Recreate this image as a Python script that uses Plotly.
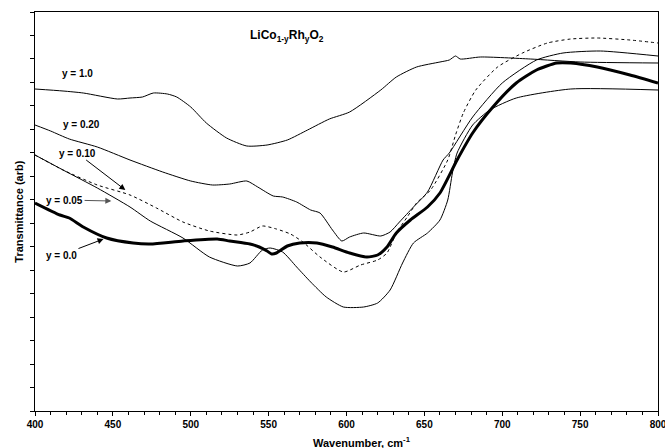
import plotly.graph_objects as go

# IR transmittance spectra of LiCo(1-y)Rh(y)O2, arbitrary units
wn_y100 = [400, 418, 431, 453, 461, 469, 476, 485, 491, 500, 510, 523, 536, 549, 562,
           575, 589, 602, 622, 632, 645, 660, 666, 670, 673, 686, 718, 750, 800]
tr_y100 = [322, 320, 318, 312, 313, 314, 318, 317, 314, 304, 288, 273, 265, 266, 271,
           281, 292, 299, 321, 334, 344, 349, 351, 355, 352, 354, 352, 349, 348]

wn_y020 = [400, 410, 422, 440, 461, 482, 500, 514, 525, 536, 543, 553, 559, 568, 577,
           583, 591, 597, 602, 611, 622, 628, 634, 643, 652, 662, 666, 681, 700, 722,
           739, 763, 800]
tr_y020 = [286, 280, 272, 264, 251, 239, 230, 226, 227, 230, 224, 215, 214, 209, 201,
           198, 181, 170, 174, 178, 175, 179, 189, 204, 219, 251, 258, 294, 328, 351,
           358, 360, 355]

wn_y010 = [400, 418, 440, 461, 478, 495, 512, 530, 538, 546, 555, 564, 572, 583, 598,
           609, 620, 626, 632, 639, 645, 654, 665, 670, 675, 683, 697, 713, 729, 744,
           761, 782, 800]
tr_y010 = [256, 241, 226, 216, 203, 189, 180, 176, 179, 185, 182, 177, 169, 154, 139,
           146, 151, 158, 178, 194, 208, 221, 251, 276, 298, 321, 344, 358, 368, 372,
           373, 371, 368]

wn_y005 = [400, 418, 440, 461, 474, 495, 512, 530, 538, 546, 551, 559, 568, 577, 587,
           598, 611, 620, 628, 636, 643, 652, 660, 665, 668, 671, 681, 692, 709, 744, 800]
tr_y005 = [256, 241, 223, 204, 190, 173, 154, 145, 148, 161, 163, 159, 144, 129, 114,
           104, 104, 108, 121, 148, 168, 178, 191, 211, 238, 258, 286, 301, 313, 322, 321]

wn_y000 = [400, 416, 422, 431, 446, 463, 474, 495, 517, 525, 538, 544, 549, 552, 555,
           562, 570, 581, 591, 602, 613, 620, 626, 632, 641, 652, 660, 671, 681, 694,
           709, 722, 735, 744, 761, 782, 800]
tr_y000 = [208, 196, 193, 184, 173, 168, 167, 170, 172, 170, 167, 164, 160, 157, 158,
           165, 168, 168, 164, 158, 154, 156, 164, 178, 191, 204, 218, 251, 278, 304,
           328, 341, 348, 348, 344, 336, 328]

x_ticks = [400, 450, 500, 550, 600, 650, 700, 750, 800]

FONT = "Liberation Sans"

fig = go.Figure()

fig.add_trace(go.Scatter(x=wn_y100, y=tr_y100, mode="lines",
                         line=dict(color="black", width=1, shape="spline", smoothing=0.6)))
fig.add_trace(go.Scatter(x=wn_y020, y=tr_y020, mode="lines",
                         line=dict(color="black", width=1, shape="spline", smoothing=0.6)))
fig.add_trace(go.Scatter(x=wn_y010, y=tr_y010, mode="lines",
                         line=dict(color="black", width=1, dash="dot", shape="spline", smoothing=0.6)))
fig.add_trace(go.Scatter(x=wn_y005, y=tr_y005, mode="lines",
                         line=dict(color="black", width=1, shape="spline", smoothing=0.6)))
fig.add_trace(go.Scatter(x=wn_y000, y=tr_y000, mode="lines",
                         line=dict(color="black", width=3, shape="spline", smoothing=0.6)))

lab_font = dict(family=FONT, size=10, color="black", weight="bold")

# plain curve labels
fig.add_annotation(x=427, y=338, text="y = 1.0", showarrow=False, font=lab_font)
fig.add_annotation(x=430, y=287, text="y = 0.20", showarrow=False, font=lab_font)

# labels with arrows (text at tail, head on the curve)
fig.add_annotation(x=458, y=221, ax=427, ay=258, axref="x", ayref="y", text="y = 0.10",
                   showarrow=True, arrowhead=2, arrowsize=1.2, arrowwidth=1, arrowcolor="black",
                   font=lab_font)
fig.add_annotation(x=449, y=210, ax=419, ay=211, axref="x", ayref="y", text="y = 0.05",
                   showarrow=True, arrowhead=2, arrowsize=1.2, arrowwidth=1, arrowcolor="#555555",
                   font=lab_font)
fig.add_annotation(x=444, y=172, ax=417, ay=156, axref="x", ayref="y", text="y = 0.0",
                   showarrow=True, arrowhead=2, arrowsize=1.2, arrowwidth=1, arrowcolor="black",
                   font=lab_font)

# compound name
fig.add_annotation(x=562, y=375, text="LiCo<sub>1-y</sub>Rh<sub>y</sub>O<sub>2</sub>",
                   showarrow=False, font=dict(family=FONT, size=12, color="black", weight="bold"))

# axis titles
fig.add_annotation(x=-0.027, y=0.5, xref="paper", yref="paper", text="Transmittance (arb)",
                   textangle=-90, showarrow=False, xanchor="center", yanchor="middle",
                   font=dict(family=FONT, size=11, color="black", weight="bold"))
fig.add_annotation(x=0.525, y=-0.078, xref="paper", yref="paper",
                   text="Wavenumber, cm<sup>-1</sup>", showarrow=False,
                   xanchor="center", yanchor="middle",
                   font=dict(family=FONT, size=11, color="black", weight="bold"))

fig.update_xaxes(
    range=[400, 800], tickvals=x_ticks, ticktext=[str(v) for v in x_ticks],
    ticks="outside", ticklen=4, tickcolor="black",
    minor=dict(dtick=10, ticks="outside", ticklen=3, tickcolor="black"),
    showline=True, linecolor="black", linewidth=1, mirror=True,
    showgrid=False, zeroline=False, ticklabeloverflow="allow", automargin=False,
    tickfont=dict(family=FONT, size=10, color="black", weight="bold"),
)
fig.update_yaxes(
    range=[0, 399], tick0=0, dtick=399 / 17, showticklabels=False,
    ticks="outside", ticklen=4, tickcolor="black",
    showline=True, linecolor="black", linewidth=1, mirror=True,
    showgrid=False, zeroline=False, automargin=False,
)

fig.update_layout(
    width=665, height=448,
    margin=dict(l=35, r=7, t=12, b=37),
    paper_bgcolor="white", plot_bgcolor="white",
    showlegend=False,
)

# drop the browser's default body margin so the figure sits at the page corner
fig.write_html("out.html", config={"displayModeBar": False},
               post_script="document.body.style.margin='0';")
